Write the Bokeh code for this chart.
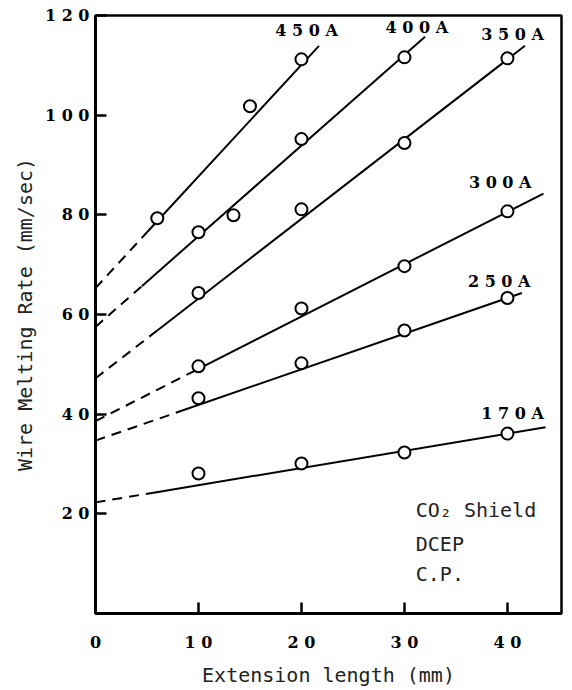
from bokeh.plotting import figure
from bokeh.models import Range1d, FixedTicker
from bokeh.embed import file_html
from bokeh.resources import INLINE
from bokeh.core.properties import value

# ---- data ----
x_ticks = [0, 10, 20, 30, 40]
x_tick_labels = ["0", "1 0", "2 0", "3 0", "4 0"]
y_ticks = [20, 40, 60, 80, 100, 120]
y_tick_labels = ["2 0", "4 0", "6 0", "8 0", "1 0 0", "1 2 0"]

currents = ["4 5 0 A", "4 0 0 A", "3 5 0 A", "3 0 0 A", "2 5 0 A", "1 7 0 A"]

x_450 = [6, 15, 20]
y_450 = [79.3, 101.8, 111.2]
x_400 = [10, 13.4, 20, 30]
y_400 = [76.5, 79.9, 95.2, 111.6]
x_350 = [10, 20, 30, 40]
y_350 = [64.3, 81.1, 94.4, 111.4]
x_300 = [10, 20, 30, 40]
y_300 = [49.6, 61.2, 69.7, 80.7]
x_250 = [10, 20, 30, 40]
y_250 = [43.2, 50.2, 56.8, 63.3]
x_170 = [10, 20, 30, 40]
y_170 = [28.1, 30.1, 32.3, 36.1]

# fitted straight lines (intercept at x=0, slope), dashed extrapolation end, line end
intercepts = [65.3, 57.5, 47.2, 38.6, 34.7, 22.3]
slopes = [2.24, 1.82, 1.60, 1.05, 0.715, 0.345]
dash_ends = [5.0, 4.5, 6.0, 9.0, 8.5, 5.5]
line_ends = [21.7, 32.0, 41.7, 43.5, 41.4, 43.7]

label_x = [20.5, 31.2, 40.5, 39.3, 39.2, 40.5]
label_y = [117.0, 117.5, 116.1, 86.5, 66.7, 40.2]

note_lines = ["CO\u2082 Shield", "DCEP", "C.P."]
note_x = [31.1, 31.1, 31.1]
note_y = [20.7, 14.0, 8.0]

xs = [x_450, x_400, x_350, x_300, x_250, x_170]
ys = [y_450, y_400, y_350, y_300, y_250, y_170]

p = figure(width=564, height=689, output_backend="svg", toolbar_location=None,
           x_range=Range1d(0, 45.25), y_range=Range1d(0, 120),
           min_border_left=95, min_border_right=3, min_border_top=15, min_border_bottom=76)
p.background_fill_color = "white"
p.border_fill_color = "white"
p.outline_line_color = "black"
p.outline_line_width = 2.5
p.xgrid.visible = False
p.ygrid.visible = False

mono = "DejaVu Sans Mono"
serif = "DejaVu Serif"

for ax, ticks, labels in ((p.xaxis[0], x_ticks, x_tick_labels), (p.yaxis[0], y_ticks, y_tick_labels)):
    ax.ticker = FixedTicker(ticks=ticks)
    ax.major_label_overrides = {t: l for t, l in zip(ticks, labels)}
    ax.major_tick_in = 11
    ax.major_tick_out = 0
    ax.minor_tick_in = 0
    ax.minor_tick_out = 0
    ax.major_tick_line_width = 2.5
    ax.axis_line_width = 3
    ax.axis_line_color = "black"
    ax.major_label_text_font = serif
    ax.major_label_text_font_style = "bold"
    ax.major_label_text_font_size = "16px"
    ax.major_label_text_color = "black"
    ax.axis_label_text_font = mono
    ax.axis_label_text_font_style = "normal"
    ax.axis_label_text_font_size = "20px"
    ax.axis_label_text_color = "#222222"

p.xaxis.axis_label = "Extension length (mm)"
p.yaxis.axis_label = "Wire Melting Rate (mm/sec)"
p.xaxis.major_label_standoff = 19
p.xaxis.axis_label_standoff = 8
p.yaxis.major_label_standoff = 6
p.yaxis.axis_label_standoff = 5

for i in range(len(currents)):
    b, m = intercepts[i], slopes[i]
    d, e = dash_ends[i], line_ends[i]
    p.line([0, d], [b, b + m * d], line_color="black", line_width=2, line_dash="10 7")
    p.line([d, e], [b + m * d, b + m * e], line_color="black", line_width=2)
    p.scatter(xs[i], ys[i], marker="circle", size=12, fill_color="white",
              line_color="black", line_width=2)

p.text(x=label_x, y=label_y, text=currents, text_align="center", text_baseline="middle",
       text_font=value(serif), text_font_style="bold", text_font_size="16px", text_color="black")

p.text(x=note_x, y=note_y, text=note_lines, text_align="left", text_baseline="middle",
       text_font=value(mono), text_font_size="20px", text_color="#222222")

open("out.html", "w").write(file_html(p, INLINE))
